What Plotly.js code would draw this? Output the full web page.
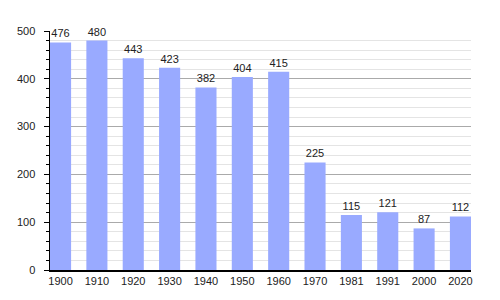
<!DOCTYPE html>
<html>
<head>
<meta charset="utf-8">
<script src="https://cdn.plot.ly/plotly-3.0.1.min.js"></script>
<style>html,body{margin:0;padding:0;background:#fff}#chart{width:500px;height:300px}</style>
</head>
<body>
<div id="chart"></div>
<script>
const years = ["1900","1910","1920","1930","1940","1950","1960","1970","1981","1991","2000","2020"];
const population = [476, 480, 443, 423, 382, 404, 415, 225, 115, 121, 87, 112];
const yTicks = [0, 100, 200, 300, 400, 500];

Plotly.newPlot('chart', [{
  type: 'bar',
  x: years,
  y: population,
  text: population.map(String),
  textposition: 'outside',
  cliponaxis: false,
  textfont: {family: 'Liberation Sans, Arial, sans-serif', size: 11, color: '#222'},
  marker: {color: '#99aaff'},
  hoverinfo: 'none'
}], {
  width: 500, height: 300,
  margin: {l: 50, r: 29, t: 31, b: 30},
  paper_bgcolor: '#fff', plot_bgcolor: '#fff',
  bargap: 0.42,
  showlegend: false,
  font: {family: 'Liberation Sans, Arial, sans-serif', size: 11, color: '#222'},
  xaxis: {
    type: 'category',
    range: [-0.29, 11.29],
    showline: true, linecolor: '#000', linewidth: 1.5,
    showgrid: false, ticks: '', zeroline: false,
    tickfont: {size: 11, color: '#222'}
  },
  yaxis: {
    range: [0, 500],
    tickvals: yTicks,
    ticktext: yTicks.map(String),
    showline: true, linecolor: '#000', linewidth: 1.5,
    showgrid: true, gridcolor: '#aaaaaa', gridwidth: 1,
    zeroline: false,
    ticks: 'outside', ticklen: 5, tickcolor: '#000',
    ticklabelstandoff: 6,
    tickfont: {size: 11, color: '#222'},
    minor: {dtick: 20, showgrid: true, gridcolor: '#e4e4e4', gridwidth: 1, ticks: 'outside', ticklen: 3, tickcolor: '#000'}
  }
}, {staticPlot: true});
</script>
</body>
</html>
